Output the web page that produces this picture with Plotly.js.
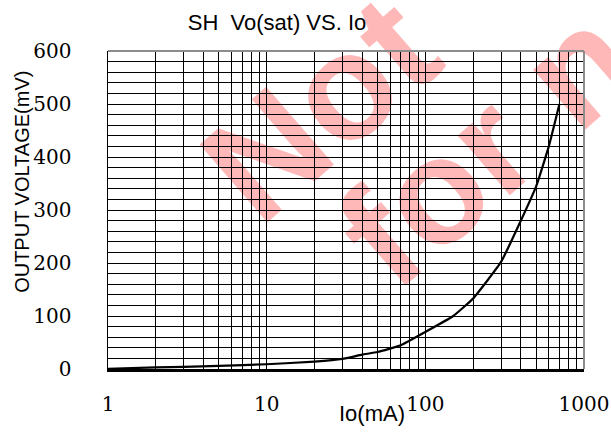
<!DOCTYPE html>
<html>
<head>
<meta charset="utf-8">
<script src="https://cdn.plot.ly/plotly-3.0.1.min.js"></script>
<style>html,body{margin:0;padding:0;background:#fff;}#chart{width:611px;height:445px;}</style>
</head>
<body>
<div id="chart"></div>
<script>
// Data
var ioMA = [1, 2, 3, 5, 10, 20, 30, 40, 50, 70, 100, 150, 200, 300, 400, 500, 600, 700];
var voSatMV = [0.5, 3, 4, 6, 9, 14, 19, 27, 32, 45, 70, 100, 133, 202, 280, 345, 420, 500];

var titleText = 'SH\u00a0\u00a0Vo(sat) VS. Io';
var xTitleText = 'Io(mA)';
var yTitleText = 'OUTPUT VOLTAGE(mV)';
var watermarkLines = ['Not', 'for new'];

var serif = 'DejaVu Serif';
var sans = 'Liberation Sans';
var wmColor = 'rgba(255,0,0,0.28)';

function wmShape(text, cx, cy) {
  return {
    type: 'rect', xref: 'paper', yref: 'paper',
    x0: cx - 0.01, x1: cx + 0.01, y0: cy - 0.01, y1: cy + 0.01,
    line: {width: 0}, fillcolor: 'rgba(0,0,0,0)', layer: 'below',
    label: {
      text: text, textangle: -41, textposition: 'middle center',
      xanchor: 'center', yanchor: 'middle', padding: 0,
      font: {family: sans, size: 150, color: wmColor, weight: 'bold'}
    }
  };
}

var trace = {
  x: ioMA, y: voSatMV, type: 'scatter', mode: 'lines',
  line: {color: '#000', width: 2.2, shape: 'spline', smoothing: 0.4},
  hoverinfo: 'skip'
};

var layout = {
  width: 611, height: 445,
  margin: {l: 108, r: 27, t: 51, b: 76, pad: 0},
  paper_bgcolor: '#fff', plot_bgcolor: 'rgba(0,0,0,0)',
  showlegend: false,
  title: {
    text: titleText, x: 0.4534, xref: 'container', xanchor: 'center',
    y: 0.9506, yref: 'container', yanchor: 'middle',
    font: {family: sans, size: 22, color: '#000'}
  },
  xaxis: {
    type: 'log', range: [0, 3], dtick: 1, exponentformat: 'none',
    showgrid: true, gridcolor: '#000', gridwidth: 1,
    minor: {dtick: 'D1', showgrid: true, gridcolor: '#000', gridwidth: 1, ticks: ''},
    ticks: '', ticklabelstandoff: 15, ticklabeloverflow: 'allow',
    tickfont: {family: serif, size: 20, color: '#000'},
    showline: true, linecolor: '#000', linewidth: 2.5, mirror: false,
    zeroline: false, fixedrange: true
  },
  yaxis: {
    range: [0, 600], dtick: 100,
    showgrid: true, gridcolor: '#000', gridwidth: 1,
    minor: {dtick: 20, showgrid: true, gridcolor: '#000', gridwidth: 1, ticks: ''},
    ticks: '', ticklabelstandoff: 31, ticklabeloverflow: 'allow',
    tickfont: {family: serif, size: 20, color: '#000'},
    showline: true, linecolor: '#000', linewidth: 1.5, mirror: false,
    zeroline: false, fixedrange: true
  },
  shapes: [
    wmShape(watermarkLines[0], 0.426, 0.855),
    wmShape(watermarkLines[1], 0.935, 0.940),
    {type: 'line', xref: 'paper', yref: 'paper', x0: 0, x1: 1, y0: 1, y1: 1,
     line: {color: '#8c8c8c', width: 2}},
    {type: 'line', xref: 'paper', yref: 'paper', x0: 1, x1: 1, y0: 0, y1: 1,
     line: {color: '#8c8c8c', width: 2}}
  ],
  annotations: [
    {text: xTitleText, xref: 'paper', yref: 'paper', x: 0.555, y: -0.1415,
     xanchor: 'center', yanchor: 'middle', showarrow: false,
     font: {family: sans, size: 22, color: '#000'}},
    {text: yTitleText, xref: 'paper', yref: 'paper', x: -0.181, y: 0.588,
     xanchor: 'center', yanchor: 'middle', showarrow: false, textangle: -90,
     font: {family: sans, size: 20, color: '#000'}}
  ]
};

Plotly.newPlot('chart', [trace], layout, {staticPlot: true, displayModeBar: false});
</script>
</body>
</html>
